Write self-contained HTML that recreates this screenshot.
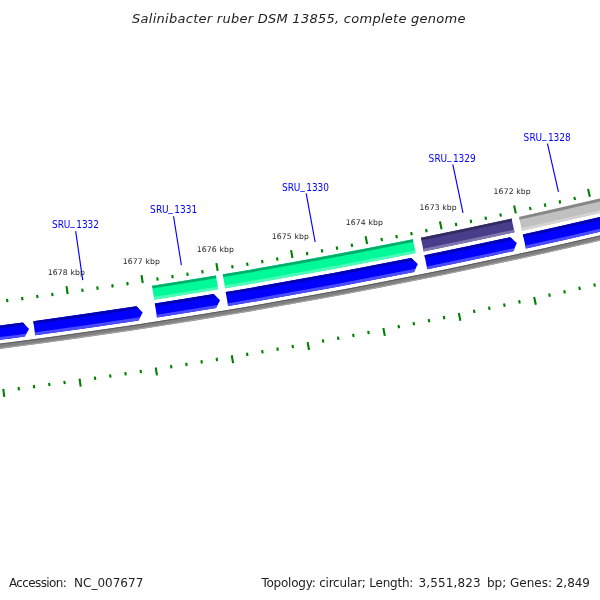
<!DOCTYPE html>
<html><head><meta charset="utf-8"><title>Salinibacter ruber DSM 13855, complete genome</title>
<style>html,body{margin:0;padding:0;background:#fff}svg{display:block}</style></head>
<body><svg width="600" height="600" viewBox="0 0 600 600">
<rect width="600" height="600" fill="#fff"/>
<path d="M-877.96 394.84 A6054.89 6054.89 0 0 0 743.73 202.9" fill="none" stroke="rgb(128,128,128)" stroke-width="5.1"/>
<path d="M-877.93 392.84 A6052.89 6052.89 0 0 0 743.23 200.96" fill="none" stroke="rgb(90,90,90)" stroke-width="1"/>
<path d="M-878 396.84 A6056.89 6056.89 0 0 0 744.23 204.83" fill="none" stroke="rgb(166,166,166)" stroke-width="1"/>
<clipPath id="c1"><path d="M-246.37 352.2 A6034.29 6034.29 0 0 0 22.86 322.54 L29.02 328.88 L24.73 336.62 A6048.49 6048.49 0 0 1 -245.13 366.34 Z"/></clipPath>
<path d="M-246.37 352.2 A6034.29 6034.29 0 0 0 22.86 322.54 L29.02 328.88 L24.73 336.62 A6048.49 6048.49 0 0 1 -245.13 366.34 Z" fill="rgb(0,0,255)"/>
<g clip-path="url(#c1)"><path d="M-247.5 351.29 A6033.29 6033.29 0 0 0 28.99 320.71 L29.5 324.52 A6037.13 6037.13 0 0 1 -247.17 355.12 Z" fill="rgb(0,0,178)"/><path d="M-246.43 363.61 A6045.65 6045.65 0 0 0 30.63 332.96 L31.14 336.77 A6049.49 6049.49 0 0 1 -246.09 367.43 Z" fill="rgb(76,76,255)"/></g>
<clipPath id="c2"><path d="M33.3 321.14 A6034.29 6034.29 0 0 0 136.4 306.35 L142.68 312.57 L138.54 320.39 A6048.49 6048.49 0 0 1 35.19 335.22 Z"/></clipPath>
<path d="M33.3 321.14 A6034.29 6034.29 0 0 0 136.4 306.35 L142.68 312.57 L138.54 320.39 A6048.49 6048.49 0 0 1 35.19 335.22 Z" fill="rgb(0,0,255)"/>
<g clip-path="url(#c2)"><path d="M32.12 320.29 A6033.29 6033.29 0 0 0 142.5 304.41 L143.08 308.2 A6037.13 6037.13 0 0 1 32.63 324.1 Z" fill="rgb(0,0,178)"/><path d="M33.77 332.54 A6045.65 6045.65 0 0 0 144.37 316.62 L144.95 320.42 A6049.49 6049.49 0 0 1 34.28 336.35 Z" fill="rgb(76,76,255)"/></g>
<clipPath id="c3"><path d="M154.83 303.51 A6034.29 6034.29 0 0 0 213.68 294.06 L220.04 300.2 L216 308.07 A6048.49 6048.49 0 0 1 157.01 317.54 Z"/></clipPath>
<path d="M154.83 303.51 A6034.29 6034.29 0 0 0 213.68 294.06 L220.04 300.2 L216 308.07 A6048.49 6048.49 0 0 1 157.01 317.54 Z" fill="rgb(0,0,255)"/>
<g clip-path="url(#c3)"><path d="M153.63 302.69 A6033.29 6033.29 0 0 0 219.75 292.04 L220.38 295.83 A6037.13 6037.13 0 0 1 154.22 306.48 Z" fill="rgb(0,0,178)"/><path d="M155.53 314.9 A6045.65 6045.65 0 0 0 221.78 304.23 L222.41 308.02 A6049.49 6049.49 0 0 1 156.12 318.69 Z" fill="rgb(76,76,255)"/></g>
<clipPath id="c4"><path d="M152.06 285.73 A6016.29 6016.29 0 0 0 215.92 275.45 L218.24 289.35 A6030.39 6030.39 0 0 1 154.23 299.66 Z"/></clipPath>
<path d="M152.06 285.73 A6016.29 6016.29 0 0 0 215.92 275.45 L218.24 289.35 A6030.39 6030.39 0 0 1 154.23 299.66 Z" fill="rgb(0,250,154)"/>
<g clip-path="url(#c4)"><path d="M150.87 284.9 A6015.29 6015.29 0 0 0 216.79 274.29 L217.42 278.05 A6019.11 6019.11 0 0 1 151.46 288.67 Z" fill="rgb(0,175,108)"/><path d="M152.75 297.03 A6027.57 6027.57 0 0 0 218.81 286.4 L219.44 290.17 A6031.39 6031.39 0 0 1 153.34 300.81 Z" fill="rgb(76,252,184)"/></g>
<clipPath id="c5"><path d="M225.73 292.06 A6034.29 6034.29 0 0 0 411.24 257.96 L417.8 263.88 L414.03 271.88 A6048.49 6048.49 0 0 1 228.08 306.06 Z"/></clipPath>
<path d="M225.73 292.06 A6034.29 6034.29 0 0 0 411.24 257.96 L417.8 263.88 L414.03 271.88 A6048.49 6048.49 0 0 1 228.08 306.06 Z" fill="rgb(0,0,255)"/>
<g clip-path="url(#c5)"><path d="M224.53 291.24 A6033.29 6033.29 0 0 0 417.24 255.73 L418 259.5 A6037.13 6037.13 0 0 1 225.16 295.03 Z" fill="rgb(0,0,178)"/><path d="M226.57 303.43 A6045.65 6045.65 0 0 0 419.68 267.85 L420.43 271.62 A6049.49 6049.49 0 0 1 227.21 307.22 Z" fill="rgb(76,76,255)"/></g>
<clipPath id="c6"><path d="M222.76 274.3 A6016.29 6016.29 0 0 0 412.86 239.27 L415.64 253.1 A6030.39 6030.39 0 0 1 225.09 288.21 Z"/></clipPath>
<path d="M222.76 274.3 A6016.29 6016.29 0 0 0 412.86 239.27 L415.64 253.1 A6030.39 6030.39 0 0 1 225.09 288.21 Z" fill="rgb(0,250,154)"/>
<g clip-path="url(#c6)"><path d="M221.55 273.49 A6015.29 6015.29 0 0 0 413.69 238.09 L414.44 241.83 A6019.11 6019.11 0 0 1 222.19 277.26 Z" fill="rgb(0,175,108)"/><path d="M223.58 285.6 A6027.57 6027.57 0 0 0 416.11 250.13 L416.87 253.87 A6031.39 6031.39 0 0 1 224.21 289.37 Z" fill="rgb(76,252,184)"/></g>
<clipPath id="c7"><path d="M424.46 255.3 A6034.29 6034.29 0 0 0 510.21 237.3 L516.87 243.11 L513.23 251.17 A6048.49 6048.49 0 0 1 427.27 269.22 Z"/></clipPath>
<path d="M424.46 255.3 A6034.29 6034.29 0 0 0 510.21 237.3 L516.87 243.11 L513.23 251.17 A6048.49 6048.49 0 0 1 427.27 269.22 Z" fill="rgb(0,0,255)"/>
<g clip-path="url(#c7)"><path d="M423.23 254.53 A6033.29 6033.29 0 0 0 516.17 234.97 L516.99 238.72 A6037.13 6037.13 0 0 1 423.99 258.29 Z" fill="rgb(0,0,178)"/><path d="M425.68 266.64 A6045.65 6045.65 0 0 0 518.81 247.05 L519.63 250.8 A6049.49 6049.49 0 0 1 426.44 270.4 Z" fill="rgb(76,76,255)"/></g>
<clipPath id="c8"><path d="M420.89 237.65 A6016.29 6016.29 0 0 0 511.52 218.59 L514.53 232.36 A6030.39 6030.39 0 0 1 423.68 251.47 Z"/></clipPath>
<path d="M420.89 237.65 A6016.29 6016.29 0 0 0 511.52 218.59 L514.53 232.36 A6030.39 6030.39 0 0 1 423.68 251.47 Z" fill="rgb(72,61,139)"/>
<g clip-path="url(#c8)"><path d="M419.66 236.88 A6015.29 6015.29 0 0 0 512.33 217.39 L513.15 221.12 A6019.11 6019.11 0 0 1 420.42 240.63 Z" fill="rgb(50,43,97)"/><path d="M422.09 248.92 A6027.57 6027.57 0 0 0 514.95 229.38 L515.77 233.12 A6031.39 6031.39 0 0 1 422.85 252.66 Z" fill="rgb(127,119,174)"/></g>
<clipPath id="c9"><path d="M522.87 234.53 A6034.29 6034.29 0 0 0 603.8 216.16 L610.55 221.87 L607.04 229.99 A6048.49 6048.49 0 0 1 525.92 248.4 Z"/></clipPath>
<path d="M522.87 234.53 A6034.29 6034.29 0 0 0 603.8 216.16 L610.55 221.87 L607.04 229.99 A6048.49 6048.49 0 0 1 525.92 248.4 Z" fill="rgb(0,0,255)"/>
<g clip-path="url(#c9)"><path d="M521.62 233.78 A6033.29 6033.29 0 0 0 609.72 213.74 L610.6 217.48 A6037.13 6037.13 0 0 1 522.45 237.53 Z" fill="rgb(0,0,178)"/><path d="M524.28 245.85 A6045.65 6045.65 0 0 0 612.55 225.77 L613.43 229.51 A6049.49 6049.49 0 0 1 525.1 249.6 Z" fill="rgb(76,76,255)"/></g>
<clipPath id="c10"><path d="M519 216.95 A6016.29 6016.29 0 0 0 604.81 197.43 L608.03 211.16 A6030.39 6030.39 0 0 1 522.03 230.72 Z"/></clipPath>
<path d="M519 216.95 A6016.29 6016.29 0 0 0 604.81 197.43 L608.03 211.16 A6030.39 6030.39 0 0 1 522.03 230.72 Z" fill="rgb(192,192,192)"/>
<g clip-path="url(#c10)"><path d="M517.76 216.2 A6015.29 6015.29 0 0 0 605.6 196.22 L606.47 199.94 A6019.11 6019.11 0 0 1 518.58 219.93 Z" fill="rgb(134,134,134)"/><path d="M520.4 228.19 A6027.57 6027.57 0 0 0 608.41 208.17 L609.29 211.89 A6031.39 6031.39 0 0 1 521.22 231.92 Z" fill="rgb(211,211,211)"/></g>
<path d="M-82.96 313.36 L-83.88 305.41 M-73.16 398.3 L-72.24 406.24 M-67.88 311.6 L-68.27 308.32 M-57.86 396.51 L-57.48 399.79 M-52.81 309.8 L-53.2 306.53 M-42.57 394.69 L-42.18 397.97 M-37.73 307.97 L-38.14 304.69 M-27.29 392.83 L-26.89 396.1 M-22.67 306.09 L-23.08 302.82 M-12.01 390.93 L-11.6 394.2 M-7.61 304.18 L-8.62 296.25 M3.27 388.99 L4.29 396.92 M7.45 302.23 L7.02 298.96 M18.54 387.01 L18.97 390.28 M22.5 300.24 L22.07 296.97 M33.81 384.99 L34.24 388.26 M37.55 298.22 L37.11 294.95 M49.07 382.94 L49.51 386.21 M52.59 296.15 L52.14 292.88 M64.32 380.84 L64.78 384.11 M67.63 294.05 L66.51 286.13 M79.57 378.71 L80.69 386.63 M82.66 291.91 L82.19 288.64 M94.82 376.54 L95.29 379.81 M97.69 289.73 L97.21 286.47 M110.06 374.33 L110.53 377.6 M112.71 287.52 L112.22 284.25 M125.29 372.09 L125.78 375.35 M127.72 285.26 L127.23 282 M140.52 369.8 L141.01 373.06 M142.73 282.97 L141.51 275.06 M155.74 367.48 L156.96 375.38 M157.73 280.64 L157.22 277.38 M170.96 365.11 L171.47 368.37 M172.73 278.27 L172.21 275.02 M186.17 362.71 L186.69 365.97 M187.72 275.87 L187.19 272.61 M201.37 360.27 L201.9 363.53 M202.7 273.43 L202.17 270.17 M216.57 357.79 L217.11 361.05 M217.68 270.94 L216.37 263.05 M231.76 355.28 L233.08 363.17 M232.66 268.43 L232.1 265.17 M246.95 352.72 L247.5 355.98 M247.62 265.87 L247.06 262.62 M262.13 350.13 L262.69 353.38 M262.58 263.27 L262.01 260.02 M277.3 347.5 L277.87 350.75 M277.53 260.64 L276.96 257.39 M292.46 344.83 L293.04 348.08 M292.48 257.97 L291.06 250.1 M307.62 342.12 L309.04 349.99 M307.42 255.26 L306.83 252.02 M322.77 339.37 L323.37 342.62 M322.35 252.52 L321.75 249.27 M337.92 336.59 L338.52 339.83 M337.28 249.74 L336.67 246.49 M353.06 333.77 L353.67 337.01 M352.2 246.91 L351.58 243.67 M368.19 330.91 L368.8 334.15 M367.11 244.06 L365.59 236.2 M383.31 328.01 L384.83 335.86 M382.01 241.16 L381.38 237.92 M398.43 325.07 L399.06 328.31 M396.91 238.23 L396.27 234.99 M413.53 322.09 L414.18 325.33 M411.8 235.25 L411.15 232.02 M428.64 319.08 L429.29 322.32 M426.68 232.25 L426.02 229.01 M443.73 316.03 L444.39 319.26 M441.55 229.2 L439.94 221.36 M458.81 312.94 L460.43 320.77 M456.42 226.11 L455.74 222.88 M473.89 309.81 L474.57 313.04 M471.28 222.99 L470.59 219.76 M488.96 306.64 L489.64 309.87 M486.13 219.83 L485.44 216.61 M504.02 303.44 L504.71 306.67 M500.97 216.64 L500.27 213.41 M519.08 300.2 L519.78 303.42 M515.8 213.4 L514.09 205.59 M534.12 296.92 L535.84 304.73 M530.63 210.13 L529.91 206.91 M549.16 293.6 L549.87 296.82 M545.45 206.82 L544.72 203.6 M564.19 290.24 L564.91 293.46 M560.26 203.48 L559.53 200.26 M579.21 286.85 L579.94 290.07 M575.06 200.09 L574.32 196.88 M594.22 283.42 L594.96 286.63 M589.85 196.67 L588.04 188.88 M609.22 279.95 L611.03 287.74 M604.63 193.21 L603.88 190 M624.22 276.44 L624.97 279.65 M619.41 189.72 L618.64 186.51 M639.2 272.89 L639.96 276.1 M634.17 186.18 L633.4 182.97 M654.18 269.31 L654.95 272.52 M648.93 182.61 L648.15 179.41 M669.14 265.69 L669.92 268.9 M663.68 179 L661.77 171.24 M684.1 262.03 L686.01 269.8 M678.42 175.36 L677.62 172.16 M699.05 258.33 L699.85 261.54 M693.15 171.68 L692.34 168.48 M713.99 254.6 L714.79 257.8 M707.87 167.96 L707.06 164.76 M728.92 250.83 L729.73 254.03 M722.58 164.2 L721.76 161.01 M743.84 247.02 L744.66 250.21 M737.28 160.41 L735.27 152.66 M758.75 243.17 L760.76 250.91" stroke="rgb(0,128,0)" stroke-width="2.1" fill="none"/>
<path d="M82.72 280.13 L75.67 231.14 M181.39 265.09 L173.52 216.22 M315.14 242 L306.17 193.32 M462.99 212.83 L452.8 164.4 M558.44 191.94 L547.46 143.67" stroke="rgb(0,0,255)" stroke-width="1.15" fill="none"/>
<g font-family="DejaVu Sans, Liberation Sans, sans-serif">
<text x="47.8" y="274.7" textLength="37.1" lengthAdjust="spacing" font-size="7.7" fill="#1e1e1e">1678 kbp</text>
<text x="122.8" y="263.8" textLength="37.1" lengthAdjust="spacing" font-size="7.7" fill="#1e1e1e">1677 kbp</text>
<text x="196.8" y="251.8" textLength="37.1" lengthAdjust="spacing" font-size="7.7" fill="#1e1e1e">1676 kbp</text>
<text x="271.8" y="238.8" textLength="37.1" lengthAdjust="spacing" font-size="7.7" fill="#1e1e1e">1675 kbp</text>
<text x="345.8" y="224.8" textLength="37.1" lengthAdjust="spacing" font-size="7.7" fill="#1e1e1e">1674 kbp</text>
<text x="419.6" y="210" textLength="37.1" lengthAdjust="spacing" font-size="7.7" fill="#1e1e1e">1673 kbp</text>
<text x="493.6" y="193.6" textLength="37.1" lengthAdjust="spacing" font-size="7.7" fill="#1e1e1e">1672 kbp</text>
<text x="51.9 57.8 63.8 70.2 76.2 81.9 87.6 93.3" y="227.6" dy="0 0 0 -2.3 2.3 0 0 0" font-size="10" font-family="DejaVu Sans Condensed, DejaVu Sans, Liberation Sans, sans-serif" font-stretch="condensed" fill="rgb(0,0,255)">SRU_1332</text>
<text x="150 155.9 161.9 168.3 174.3 180 185.7 191.4" y="212.9" dy="0 0 0 -2.3 2.3 0 0 0" font-size="10" font-family="DejaVu Sans Condensed, DejaVu Sans, Liberation Sans, sans-serif" font-stretch="condensed" fill="rgb(0,0,255)">SRU_1331</text>
<text x="281.9 287.8 293.8 300.2 306.2 311.9 317.6 323.3" y="190.8" dy="0 0 0 -2.3 2.3 0 0 0" font-size="10" font-family="DejaVu Sans Condensed, DejaVu Sans, Liberation Sans, sans-serif" font-stretch="condensed" fill="rgb(0,0,255)">SRU_1330</text>
<text x="428.6 434.5 440.5 446.9 452.9 458.6 464.3 470" y="161.6" dy="0 0 0 -2.3 2.3 0 0 0" font-size="10" font-family="DejaVu Sans Condensed, DejaVu Sans, Liberation Sans, sans-serif" font-stretch="condensed" fill="rgb(0,0,255)">SRU_1329</text>
<text x="523.6 529.5 535.5 541.9 547.9 553.6 559.3 565" y="140.6" dy="0 0 0 -2.3 2.3 0 0 0" font-size="10" font-family="DejaVu Sans Condensed, DejaVu Sans, Liberation Sans, sans-serif" font-stretch="condensed" fill="rgb(0,0,255)">SRU_1328</text>
<text x="132.1" y="22.8" textLength="333.4" lengthAdjust="spacing" font-size="13" fill="#1e1e1e" font-style="italic">Salinibacter ruber DSM 13855, complete genome</text>
<text x="9" y="587" textLength="57.7" lengthAdjust="spacing" font-size="12" fill="#1e1e1e">Accession:</text>
<text x="74" y="587" textLength="69.3" lengthAdjust="spacing" font-size="12" fill="#1e1e1e">NC_007677</text>
<text x="261.4" y="587" textLength="152" lengthAdjust="spacing" font-size="12" fill="#1e1e1e">Topology: circular; Length:</text>
<text x="418.6" y="587" textLength="62" lengthAdjust="spacing" font-size="12" fill="#1e1e1e">3,551,823</text>
<text x="487" y="587" textLength="103" lengthAdjust="spacing" font-size="12" fill="#1e1e1e">bp; Genes: 2,849</text>
</g>
</svg></body></html>
